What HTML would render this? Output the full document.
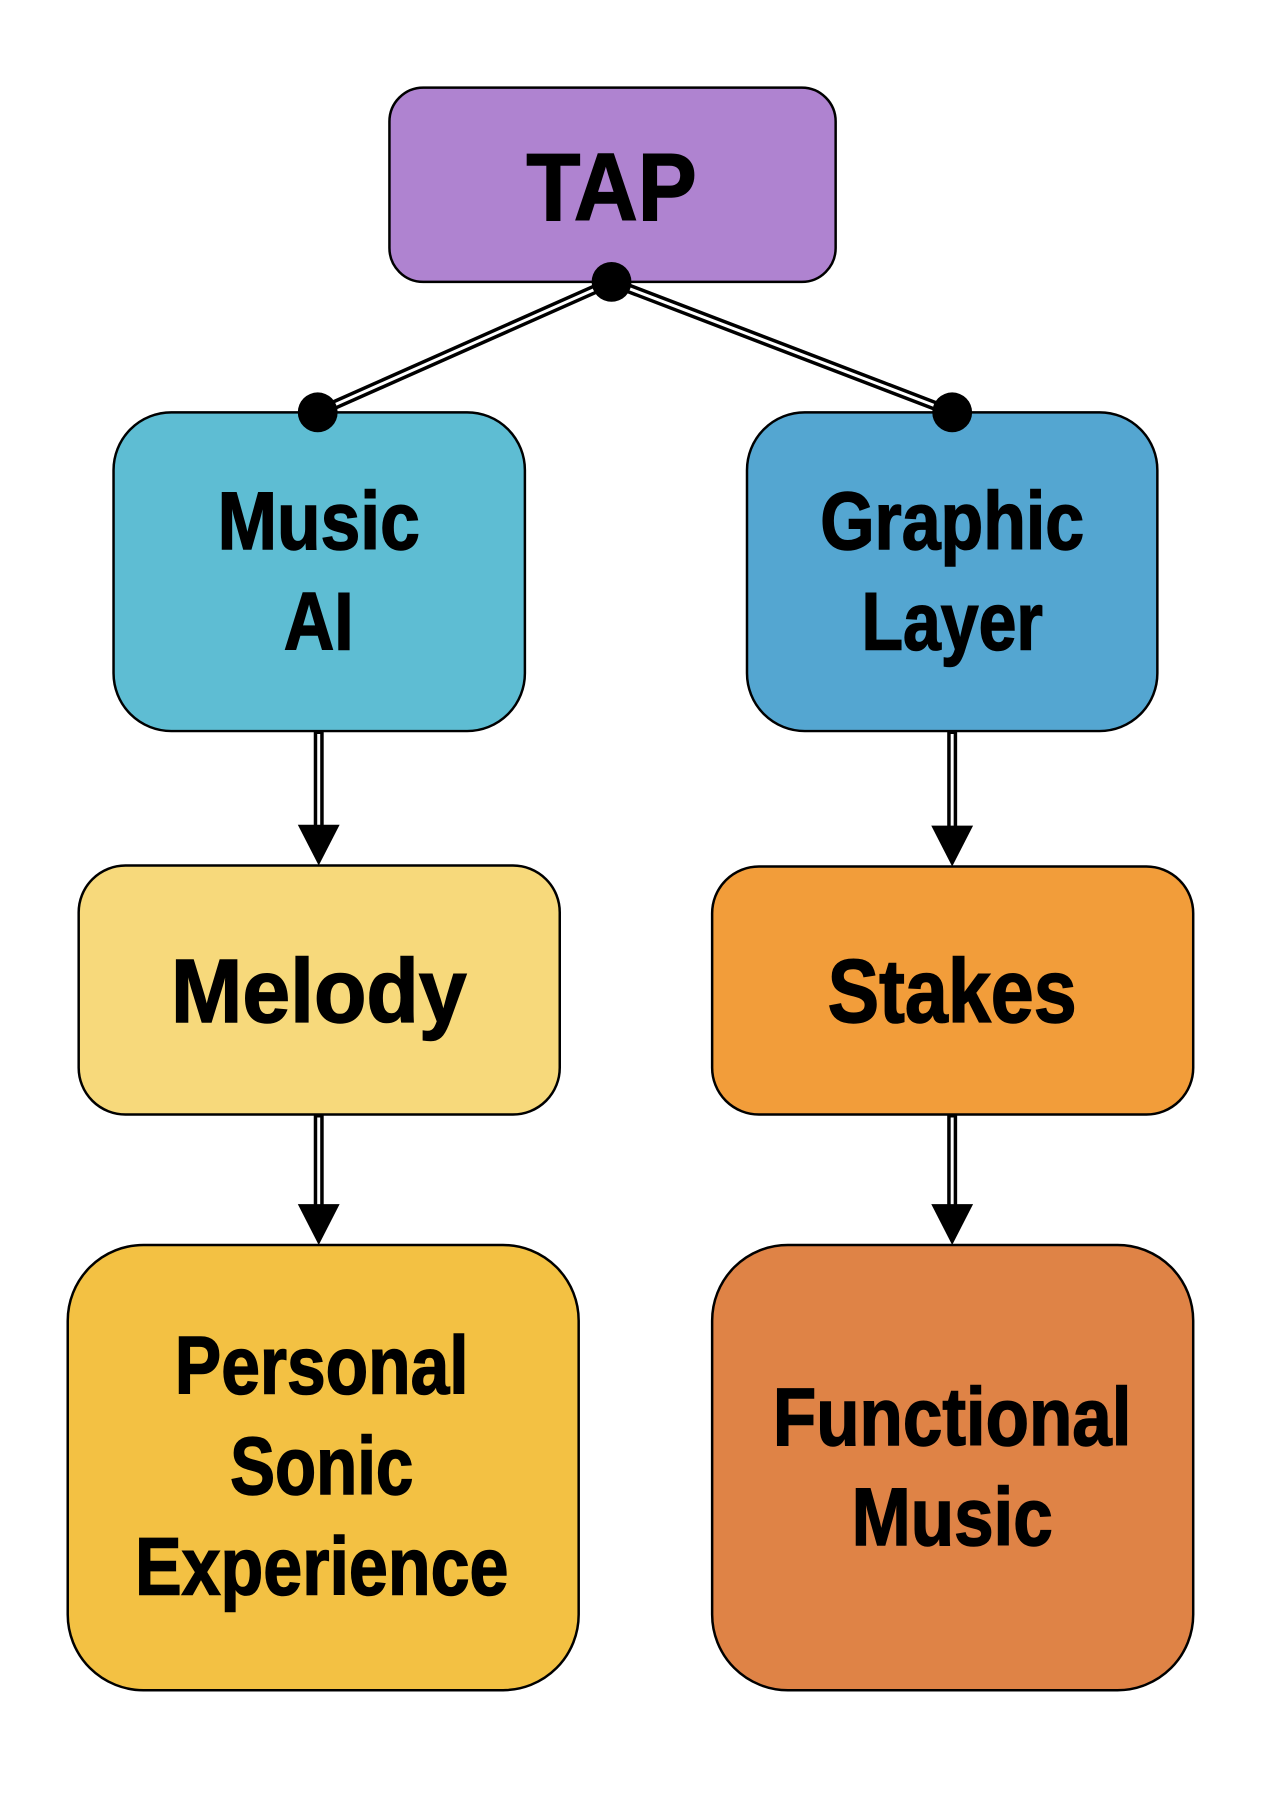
<!DOCTYPE html>
<html><head><meta charset="utf-8"><style>html,body{margin:0;padding:0;background:#fff}svg{display:block}</style></head>
<body>
<svg width="1282" height="1820" viewBox="0 0 1282 1820" xmlns="http://www.w3.org/2000/svg" font-family="'Liberation Sans', sans-serif" font-weight="bold" text-anchor="middle">
<g transform="scale(0.996)">
<g stroke="#000" stroke-width="2.5">
<rect x="391" y="88" width="448" height="195" rx="34" fill="#af83d0"/>
<rect x="114" y="414" width="413" height="320" rx="58" fill="#5ebdd3"/>
<rect x="750" y="414" width="412" height="320" rx="58" fill="#54a6d1"/>
<rect x="79" y="869" width="483" height="250" rx="47" fill="#f7d97b"/>
<rect x="715" y="870" width="483" height="249" rx="47" fill="#f29d3a"/>
<rect x="68" y="1250" width="513" height="447" rx="76" fill="#f3c143"/>
<rect x="715" y="1250" width="483" height="447" rx="76" fill="#df8346"/>
</g>
<g fill="none">
<line x1="614" y1="283" x2="319" y2="414" stroke="#000" stroke-width="10"/>
<line x1="614" y1="283" x2="319" y2="414" stroke="#fff" stroke-width="3"/>
<line x1="614" y1="283" x2="956" y2="414" stroke="#000" stroke-width="10"/>
<line x1="614" y1="283" x2="956" y2="414" stroke="#fff" stroke-width="3"/>
<g stroke="#000" stroke-width="10">
<line x1="320" y1="734" x2="320" y2="830"/><line x1="956" y1="734" x2="956" y2="830"/>
<line x1="320" y1="1119" x2="320" y2="1211"/><line x1="956" y1="1119" x2="956" y2="1211"/>
</g>
<g stroke="#fff" stroke-width="3">
<line x1="320" y1="737" x2="320" y2="830"/><line x1="956" y1="737" x2="956" y2="830"/>
<line x1="320" y1="1122" x2="320" y2="1211"/><line x1="956" y1="1122" x2="956" y2="1211"/>
</g>
</g>
<g fill="#000">
<circle cx="614" cy="283" r="20"/><circle cx="319" cy="414" r="20"/><circle cx="956" cy="414" r="20"/>
<polygon points="299,828 341,828 320,869"/><polygon points="935,829 977,829 956,870"/>
<polygon points="299,1209 341,1209 320,1250"/><polygon points="935,1209 977,1209 956,1250"/>
</g>
<g fill="#000" stroke="#000" stroke-width="1.5">
<text x="614" y="221" font-size="96" textLength="171" lengthAdjust="spacingAndGlyphs">TAP</text>
<text x="320" y="551" font-size="82" textLength="203" lengthAdjust="spacingAndGlyphs">Music</text>
<text x="320" y="652" font-size="82" textLength="70" lengthAdjust="spacingAndGlyphs">AI</text>
<text x="956" y="551" font-size="82" textLength="265" lengthAdjust="spacingAndGlyphs">Graphic</text>
<text x="956" y="652" font-size="82" textLength="182" lengthAdjust="spacingAndGlyphs">Layer</text>
<text x="320" y="1026" font-size="90" textLength="297" lengthAdjust="spacingAndGlyphs">Melody</text>
<text x="956" y="1026" font-size="90" textLength="250" lengthAdjust="spacingAndGlyphs">Stakes</text>
<text x="323" y="1399" font-size="82" textLength="295" lengthAdjust="spacingAndGlyphs">Personal</text>
<text x="323" y="1500" font-size="82" textLength="184" lengthAdjust="spacingAndGlyphs">Sonic</text>
<text x="323" y="1601" font-size="82" textLength="375" lengthAdjust="spacingAndGlyphs">Experience</text>
<text x="956" y="1451" font-size="82" textLength="360" lengthAdjust="spacingAndGlyphs">Functional</text>
<text x="956" y="1551" font-size="82" textLength="202" lengthAdjust="spacingAndGlyphs">Music</text>
</g>
</g>
</svg>
</body></html>
